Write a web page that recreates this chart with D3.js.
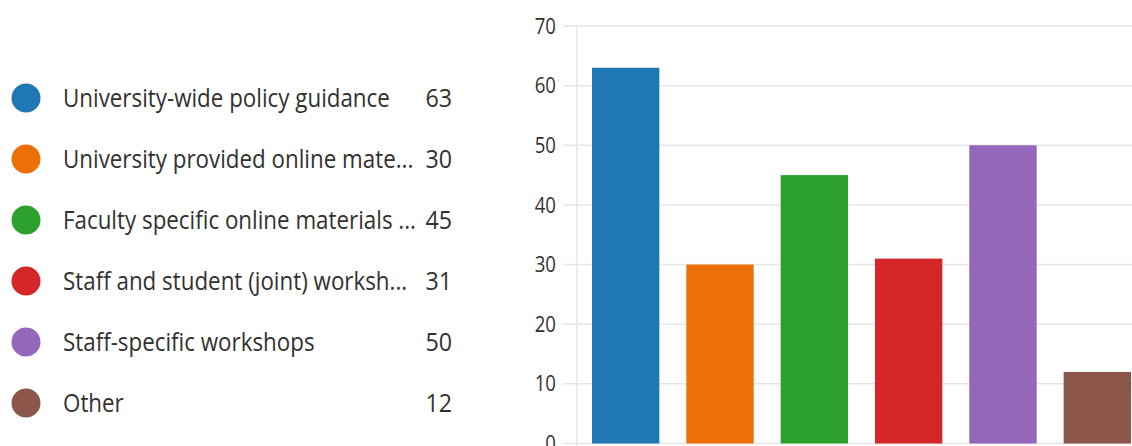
<!DOCTYPE html>
<html>
<head>
<meta charset="utf-8">
<script src="https://cdn.jsdelivr.net/npm/d3@7"></script>
<style>
  html, body { margin: 0; padding: 0; background: #fff; overflow: hidden; }
  svg { display: block; }
  text { font-family: "Open Sans", "Noto Sans", sans-serif; fill: #323130; }
</style>
</head>
<body>
<svg id="chart" width="1132" height="446"></svg>
<script>
const categories = [
  "University-wide policy guidance",
  "University provided online mate...",
  "Faculty specific online materials ...",
  "Staff and student (joint) worksh...",
  "Staff-specific workshops",
  "Other"
];
const values = [63, 30, 45, 31, 50, 12];
const colors = ["#1f77b4", "#ec7008", "#2ca02c", "#d62728", "#9467bd", "#8c564b"];
const yTicks = [0, 10, 20, 30, 40, 50, 60, 70];

const svg = d3.select("#chart");

// Legend
const legendY = d3.scalePoint().domain(categories).range([98, 403]);
const legend = svg.append("g");
const rows = legend.selectAll("g").data(categories).join("g")
  .attr("transform", d => `translate(0,${legendY(d)})`);
rows.append("circle").attr("cx", 26).attr("cy", 0).attr("r", 14.5)
  .attr("fill", (d, i) => colors[i]);
const labels = rows.append("text").attr("x", 63).attr("dy", "0.36em")
  .style("font-size", "20px").text(d => d);
// fit font so first label spans ~327px, then stretch a little vertically
const w0 = labels.nodes()[0].getComputedTextLength();
const fs = 20 * 327 / w0;
labels.style("font-size", fs + "px")
  .attr("transform", "scale(1,1.12)");
rows.append("text").attr("x", 452).attr("dy", "0.36em").attr("text-anchor", "end")
  .attr("transform", "scale(1,1.12)")
  .style("font-size", (fs * 1.04) + "px").text((d, i) => values[i]);

// Bar chart
const y = d3.scaleLinear().domain([0, 70]).range([443.5, 26]);
const x = d3.scaleBand().domain(categories).range([577, 1146])
  .paddingInner(0.286).paddingOuter(0.159);

const grid = svg.append("g");
grid.selectAll("line").data(yTicks).join("line")
  .attr("x1", 563).attr("x2", 1132)
  .attr("y1", d => y(d)).attr("y2", d => y(d))
  .attr("stroke", "#e6e6e6").attr("stroke-width", 1.5);
svg.append("line").attr("x1", 577).attr("x2", 577).attr("y1", 26).attr("y2", 446)
  .attr("stroke", "#e6e6e6").attr("stroke-width", 1.5);

const yAxis = svg.append("g").attr("transform", "translate(556,0)")
  .call(d3.axisLeft(y).tickValues(yTicks).tickSize(0).tickPadding(0));
yAxis.select(".domain").remove();
yAxis.selectAll("text").style("font-size", "20px")
  .style("font-family", '"Open Sans", "Noto Sans", sans-serif').attr("fill", "#323130")
  .attr("transform", "scale(0.93,1.08)")
  .attr("dy", "0.33em");

svg.append("g").selectAll("rect").data(values).join("rect")
  .attr("x", (d, i) => x(categories[i]))
  .attr("width", x.bandwidth())
  .attr("y", d => y(d))
  .attr("height", d => y(0) - y(d))
  .attr("fill", (d, i) => colors[i]);
</script>
</body>
</html>
